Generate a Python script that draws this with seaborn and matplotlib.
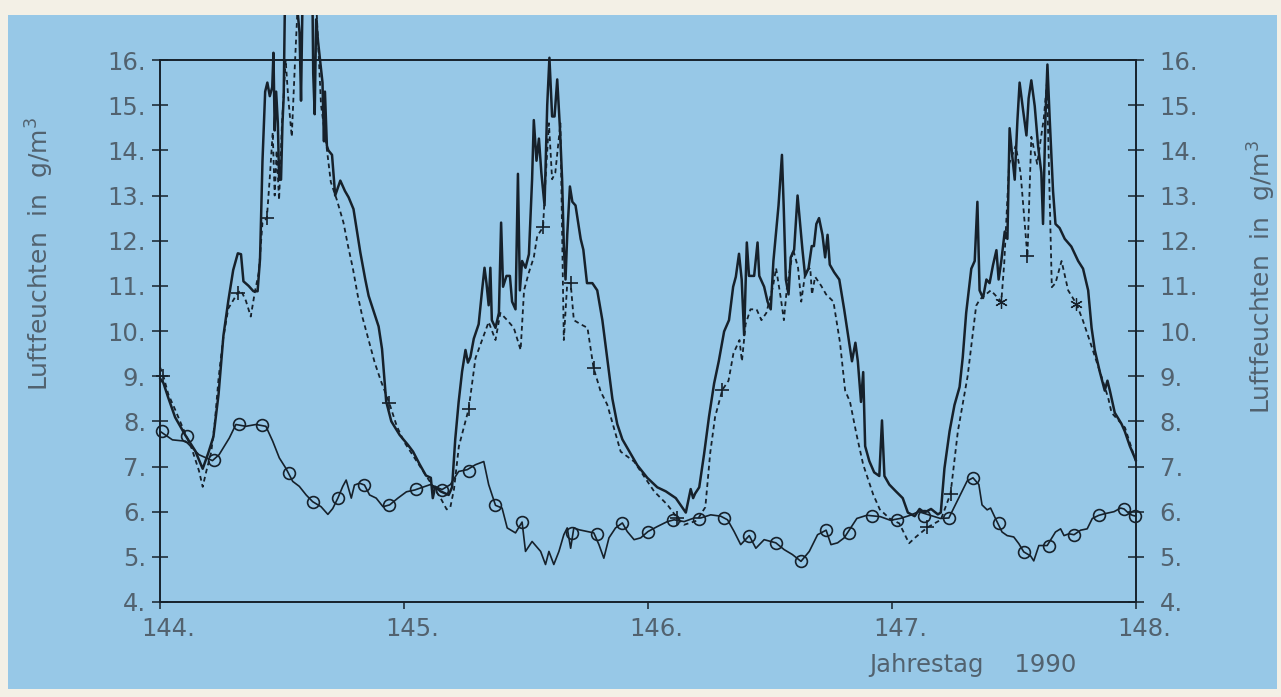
import matplotlib
matplotlib.use("Agg")
import matplotlib.pyplot as plt
import matplotlib.transforms as mtransforms
from matplotlib.patches import Rectangle
import seaborn as sns

# --- Daten (Jahrestag, g/m3) ---
# durchgezogene Kurve
tag_voll = [
    144.000, 144.014, 144.034, 144.062, 144.103, 144.144, 144.175, 144.198, 144.219, 144.240,
    144.260, 144.280, 144.300, 144.319, 144.332, 144.342, 144.363, 144.383, 144.400, 144.410,
    144.420, 144.431, 144.440, 144.450, 144.460, 144.465, 144.470, 144.476, 144.483, 144.488,
    144.496, 144.502, 144.507, 144.512, 144.560, 144.572, 144.578, 144.584, 144.625, 144.628,
    144.634, 144.640, 144.648, 144.656, 144.666, 144.672, 144.676, 144.684, 144.690, 144.705,
    144.718, 144.739, 144.758, 144.773, 144.793, 144.821, 144.841, 144.855, 144.875, 144.896,
    144.910, 144.927, 144.948, 144.982, 145.016, 145.037, 145.064, 145.090, 145.110, 145.118,
    145.128, 145.150, 145.183, 145.197, 145.210, 145.224, 145.238, 145.252, 145.262, 145.272,
    145.286, 145.306, 145.320, 145.330, 145.338, 145.347, 145.354, 145.360, 145.375, 145.389,
    145.398, 145.406, 145.420, 145.434, 145.443, 145.457, 145.467, 145.475, 145.484, 145.498,
    145.512, 145.525, 145.532, 145.543, 145.553, 145.563, 145.576, 145.587, 145.596, 145.607,
    145.617, 145.628, 145.639, 145.648, 145.655, 145.662, 145.669, 145.680, 145.690, 145.703,
    145.724, 145.735, 145.750, 145.772, 145.792, 145.813, 145.833, 145.854, 145.874, 145.895,
    145.929, 145.956, 145.997, 146.038, 146.073, 146.114, 146.155, 146.175, 146.185, 146.193,
    146.210, 146.230, 146.250, 146.271, 146.290, 146.312, 146.332, 146.349, 146.360, 146.373,
    146.384, 146.394, 146.405, 146.414, 146.435, 146.449, 146.456, 146.476, 146.490, 146.503,
    146.514, 146.524, 146.535, 146.549, 146.556, 146.565, 146.576, 146.585, 146.599, 146.613,
    146.622, 146.633, 146.644, 146.658, 146.671, 146.680, 146.690, 146.701, 146.715, 146.726,
    146.736, 146.745, 146.763, 146.784, 146.804, 146.822, 146.836, 146.850, 146.860, 146.873,
    146.882, 146.890, 146.907, 146.927, 146.948, 146.959, 146.969, 146.989, 147.016, 147.044,
    147.065, 147.093, 147.113, 147.133, 147.160, 147.188, 147.200, 147.215, 147.236, 147.256,
    147.277, 147.290, 147.304, 147.325, 147.339, 147.350, 147.359, 147.373, 147.387, 147.400,
    147.414, 147.428, 147.437, 147.448, 147.462, 147.473, 147.482, 147.492, 147.503, 147.514,
    147.523, 147.537, 147.551, 147.560, 147.571, 147.585, 147.599, 147.612, 147.619, 147.629,
    147.637, 147.646, 147.660, 147.670, 147.687, 147.708, 147.735, 147.763, 147.783, 147.804,
    147.818, 147.831, 147.852, 147.872, 147.883, 147.893, 147.913, 147.940, 147.954, 147.975,
    148.000,
]
feuchte_voll = [
    8.95, 8.85, 8.52, 8.09, 7.70, 7.35, 6.95, 7.30, 7.66, 8.60,
    9.90, 10.67, 11.35, 11.72, 11.70, 11.10, 11.00, 10.88, 10.88, 11.60,
    13.76, 15.30, 15.50, 15.20, 15.40, 16.16, 14.44, 15.30, 14.60, 13.40,
    13.35, 14.60, 15.20, 17.30, 17.30, 16.60, 15.10, 17.30, 17.30, 15.70,
    14.80, 16.90, 16.40, 16.00, 15.50, 14.20, 15.30, 14.10, 14.00, 13.90,
    13.00, 13.33, 13.10, 12.96, 12.70, 11.74, 11.15, 10.78, 10.45, 10.10,
    9.60, 8.44, 8.00, 7.70, 7.48, 7.33, 7.05, 6.80, 6.75, 6.30,
    6.55, 6.45, 6.37, 6.54, 7.60, 8.43, 9.10, 9.58, 9.30, 9.42,
    9.83, 10.15, 10.90, 11.40, 11.06, 10.57, 11.40, 10.24, 10.07, 10.40,
    12.40, 10.98, 11.22, 11.22, 10.65, 10.48, 13.48, 10.90, 11.55, 11.40,
    11.70, 13.36, 14.67, 13.77, 14.26, 13.50, 12.78, 15.00, 16.05, 14.75,
    14.75, 15.57, 14.50, 13.36, 11.88, 11.14, 12.13, 13.20, 12.86, 12.78,
    12.04, 11.80, 11.06, 11.06, 10.90, 10.24, 9.40, 8.50, 7.94, 7.60,
    7.28, 7.03, 6.75, 6.54, 6.45, 6.30, 5.98, 6.50, 6.30, 6.40,
    6.54, 7.28, 8.10, 8.84, 9.33, 9.99, 10.24, 10.98, 11.20, 11.71,
    11.14, 9.91, 11.96, 11.22, 11.22, 11.96, 11.22, 10.98, 10.65, 10.48,
    11.55, 12.13, 12.78, 13.90, 12.78, 11.14, 10.81, 11.63, 11.80, 13.00,
    12.45, 11.80, 11.22, 11.39, 11.88, 11.88, 12.37, 12.50, 12.13, 11.63,
    12.13, 11.47, 11.30, 11.14, 10.48, 9.83, 9.33, 9.74, 9.33, 8.43,
    9.09, 7.45, 7.12, 6.87, 6.79, 8.02, 6.79, 6.60, 6.45, 6.30,
    5.98, 5.90, 6.06, 5.98, 6.06, 5.94, 5.98, 6.96, 7.78, 8.36,
    8.76, 9.42, 10.40, 11.38, 11.55, 12.86, 10.90, 10.73, 11.14, 11.06,
    11.46, 11.79, 11.14, 11.55, 12.20, 12.04, 14.49, 13.92, 13.35, 14.66,
    15.50, 14.90, 14.33, 15.15, 15.55, 14.98, 14.08, 13.51, 12.37, 14.74,
    15.90, 14.74, 13.10, 12.37, 12.28, 12.04, 11.87, 11.55, 11.38, 10.90,
    10.07, 9.58, 9.09, 8.68, 8.90, 8.68, 8.19, 7.95, 7.78, 7.45,
    7.13,
]

# gestrichelte Kurve
tag_strich = [
    144.000, 144.014, 144.034, 144.062, 144.090, 144.130, 144.160, 144.175, 144.190, 144.210,
    144.225, 144.240, 144.258, 144.280, 144.318, 144.332, 144.352, 144.372, 144.388, 144.405,
    144.420, 144.438, 144.450, 144.462, 144.470, 144.478, 144.488, 144.500, 144.515, 144.525,
    144.540, 144.552, 144.565, 144.640, 144.660, 144.680, 144.700, 144.725, 144.752, 144.770,
    144.790, 144.810, 144.830, 144.855, 144.880, 144.905, 144.940, 144.970, 145.000, 145.030,
    145.060, 145.090, 145.120, 145.150, 145.175, 145.190, 145.205, 145.225, 145.265, 145.293,
    145.320, 145.347, 145.375, 145.395, 145.423, 145.450, 145.478, 145.492, 145.512, 145.532,
    145.546, 145.570, 145.580, 145.594, 145.607, 145.620, 145.641, 145.655, 145.669, 145.683,
    145.696, 145.724, 145.752, 145.777, 145.806, 145.833, 145.888, 145.943, 146.025, 146.080,
    146.120, 146.148, 146.200, 146.235, 146.255, 146.275, 146.305, 146.330, 146.350, 146.375,
    146.385, 146.400, 146.420, 146.445, 146.465, 146.485, 146.512, 146.525, 146.545, 146.557,
    146.570, 146.595, 146.615, 146.628, 146.645, 146.665, 146.672, 146.685, 146.710, 146.730,
    146.760, 146.787, 146.808, 146.828, 146.855, 146.882, 146.923, 146.950, 146.990, 147.030,
    147.070, 147.100, 147.145, 147.200, 147.240, 147.270, 147.310, 147.345, 147.360, 147.405,
    147.448, 147.460, 147.480, 147.507, 147.527, 147.555, 147.571, 147.595, 147.622, 147.635,
    147.655, 147.670, 147.695, 147.722, 147.756, 147.782, 147.818, 147.858, 147.886, 147.900,
    147.955, 148.000,
]
feuchte_strich = [
    9.20, 9.00, 8.60, 8.26, 7.90, 7.40, 6.90, 6.55, 6.90, 7.32,
    8.00, 8.95, 9.80, 10.50, 10.84, 10.90, 10.67, 10.32, 10.84, 11.30,
    12.40, 12.50, 13.40, 14.40, 13.00, 14.00, 12.90, 14.60, 16.00, 15.20,
    14.30, 15.80, 17.30, 17.30, 15.00, 14.20, 13.30, 12.90, 12.40, 11.90,
    11.40, 10.80, 10.30, 9.80, 9.30, 8.90, 8.40, 7.90, 7.55, 7.30,
    7.05, 6.80, 6.55, 6.30, 6.05, 6.10, 6.50, 7.45, 8.27, 9.40,
    9.80, 10.20, 9.80, 10.40, 10.24, 10.07, 9.58, 10.90, 11.30, 11.63,
    12.10, 12.30, 13.36, 14.60, 13.36, 13.50, 14.60, 9.80, 11.06, 11.06,
    10.24, 10.15, 10.07, 9.18, 8.66, 8.37, 7.33, 7.11, 6.45, 6.15,
    5.86, 5.71, 5.80, 6.10, 7.30, 8.10, 8.70, 8.90, 9.50, 9.80,
    9.33, 10.15, 10.48, 10.48, 10.24, 10.40, 10.98, 11.39, 10.70, 10.24,
    11.00, 11.80, 11.40, 10.65, 11.30, 11.40, 10.81, 11.20, 11.00, 10.81,
    10.65, 9.74, 8.68, 8.43, 7.70, 7.04, 6.38, 6.05, 5.85, 5.74,
    5.30, 5.45, 5.65, 5.82, 6.40, 7.78, 9.00, 10.56, 10.70, 10.90,
    10.65, 11.50, 13.70, 14.10, 13.50, 11.65, 14.30, 13.70, 14.70, 15.50,
    10.97, 11.06, 11.55, 10.90, 10.60, 10.24, 9.66, 9.00, 8.52, 8.19,
    7.86, 7.10,
]
tag_plus = [144.014, 144.318, 144.438, 144.940, 145.265, 145.570, 145.683, 145.777,
            146.120, 146.305, 147.145, 147.240, 147.555]
feuchte_plus = [9.00, 10.84, 12.50, 8.40, 8.27, 12.30, 11.06, 9.18,
                5.86, 8.70, 5.65, 6.40, 11.65]
tag_stern = [147.448, 147.756]
feuchte_stern = [10.65, 10.60]

# duenne Kurve mit Kreisen
tag_kreislinie = [
    144.000, 144.051, 144.105, 144.160, 144.215, 144.242, 144.284, 144.311, 144.352, 144.393,
    144.434, 144.462, 144.489, 144.516, 144.544, 144.571, 144.599, 144.626, 144.660, 144.688,
    144.708, 144.729, 144.749, 144.763, 144.784, 144.797, 144.818, 144.838, 144.859, 144.886,
    144.914, 144.941, 144.975, 145.010, 145.044, 145.108, 145.156, 145.190, 145.224, 145.259,
    145.293, 145.327, 145.347, 145.375, 145.402, 145.423, 145.457, 145.484, 145.498, 145.525,
    145.560, 145.580, 145.594, 145.614, 145.635, 145.655, 145.669, 145.683, 145.696, 145.717,
    145.751, 145.778, 145.799, 145.819, 145.840, 145.867, 145.895, 145.915, 145.943, 145.970,
    146.000, 146.038, 146.079, 146.107, 146.148, 146.189, 146.216, 146.257, 146.298, 146.326,
    146.353, 146.380, 146.415, 146.442, 146.476, 146.503, 146.524, 146.558, 146.592, 146.627,
    146.661, 146.695, 146.730, 146.750, 146.777, 146.804, 146.856, 146.897, 146.952, 146.993,
    147.034, 147.075, 147.109, 147.157, 147.198, 147.233, 147.253, 147.280, 147.308, 147.332,
    147.356, 147.369, 147.390, 147.404, 147.424, 147.451, 147.472, 147.499, 147.520, 147.540,
    147.568, 147.581, 147.602, 147.636, 147.670, 147.691, 147.705, 147.725, 147.746, 147.773,
    147.800, 147.821, 147.848, 147.876, 147.910, 147.937, 147.951, 147.971, 147.985, 148.000,
]
feuchte_kreislinie = [
    7.78, 7.59, 7.56, 7.26, 7.13, 7.26, 7.63, 7.93, 7.89, 7.93,
    7.89, 7.56, 7.19, 6.96, 6.67, 6.56, 6.37, 6.22, 6.11, 5.94,
    6.07, 6.30, 6.56, 6.70, 6.30, 6.59, 6.63, 6.59, 6.37, 6.30,
    6.11, 6.15, 6.30, 6.44, 6.48, 6.60, 6.49, 6.60, 6.89, 6.93,
    7.04, 7.11, 6.60, 6.14, 6.08, 5.64, 5.53, 5.77, 5.12, 5.34,
    5.12, 4.83, 5.12, 4.83, 5.12, 5.49, 5.64, 5.19, 5.64, 5.60,
    5.56, 5.53, 5.27, 4.97, 5.42, 5.64, 5.75, 5.56, 5.38, 5.42,
    5.56, 5.67, 5.78, 5.82, 5.78, 5.86, 5.86, 5.93, 5.90, 5.82,
    5.56, 5.27, 5.47, 5.19, 5.38, 5.34, 5.31, 5.16, 5.05, 4.90,
    5.12, 5.49, 5.59, 5.27, 5.31, 5.42, 5.85, 5.92, 5.89, 5.81,
    5.85, 5.92, 6.00, 5.92, 5.85, 5.86, 6.08, 6.38, 6.68, 6.75,
    6.60, 6.15, 6.04, 6.08, 5.85, 5.55, 5.47, 5.44, 5.29, 5.11,
    5.02, 4.91, 5.25, 5.25, 5.55, 5.62, 5.47, 5.51, 5.49, 5.59,
    5.62, 5.85, 5.92, 5.96, 6.00, 6.08, 6.06, 5.96, 5.92, 5.90,
]
tag_kreise = [
    144.010, 144.112, 144.222, 144.322, 144.420, 144.530, 144.626, 144.729, 144.838, 144.940,
    145.048, 145.156, 145.265, 145.375, 145.484, 145.690, 145.790, 145.895, 146.000, 146.104,
    146.210, 146.310, 146.415, 146.524, 146.627, 146.730, 146.825, 146.918, 147.020, 147.130,
    147.233, 147.332, 147.438, 147.540, 147.643, 147.746, 147.848, 147.950, 147.995,
]
feuchte_kreise = [
    7.79, 7.67, 7.15, 7.94, 7.91, 6.85, 6.22, 6.30, 6.60, 6.15,
    6.50, 6.49, 6.89, 6.14, 5.77, 5.53, 5.50, 5.75, 5.56, 5.82,
    5.84, 5.86, 5.47, 5.30, 4.90, 5.59, 5.53, 5.90, 5.81, 5.91,
    5.86, 6.75, 5.74, 5.11, 5.25, 5.49, 5.92, 6.06, 5.91,
]

x_ticks = [144, 145, 146, 147, 148]
y_ticks = list(range(4, 17))

# --- Stil ---
BLAU = "#97c8e7"
CREME = "#f3f0e6"
TINTE = "#16212b"
SCHRIFT = "#52626f"

sns.set_theme(style="ticks", rc={"axes.facecolor": BLAU, "figure.facecolor": BLAU})
plt.rcParams["font.family"] = ["DejaVu Sans"]

fig = plt.figure(figsize=(12.81, 6.97), dpi=100)
ax = fig.add_axes([0.1249, 0.1363, 0.7619, 0.7776])

sns.lineplot(x=tag_voll, y=feuchte_voll, ax=ax, color=TINTE, linewidth=1.8,
             estimator=None, sort=False)
sns.lineplot(x=tag_strich, y=feuchte_strich, ax=ax, color=TINTE, linewidth=1.3,
             linestyle=(0, (2.6, 2.0)), estimator=None, sort=False)
sns.lineplot(x=tag_kreislinie, y=feuchte_kreislinie, ax=ax, color=TINTE, linewidth=1.2,
             estimator=None, sort=False)
ax.plot(tag_kreise, feuchte_kreise, ls="none", marker="o", ms=8.5, mfc="none",
        mec=TINTE, mew=1.2)
ax.plot(tag_plus, feuchte_plus, ls="none", marker="+", ms=10, mew=1.2, color=TINTE)
ax.plot(tag_stern, feuchte_stern, ls="none", marker=(6, 2, 0), ms=9, mew=0.9, color=TINTE)
for ln in ax.lines:
    ln.set_clip_on(False)

ax.set_xlim(144, 148)
ax.set_ylim(4, 16)
ax.set_xticks(x_ticks)
ax.set_xticklabels([f"{v}." for v in x_ticks])
ax.set_yticks(y_ticks)
ax.set_yticklabels([f"{v}." for v in y_ticks])
ax.set_xlabel("")
ax.set_ylabel("")

for sp in ax.spines.values():
    sp.set_visible(True)
    sp.set_color(TINTE)
    sp.set_linewidth(1.2)

ax.tick_params(axis="y", direction="inout", length=12, width=1.1, color=TINTE,
               labelcolor=SCHRIFT, labelsize=17.5, pad=4)
ax.tick_params(axis="x", direction="out", length=5, width=1.1, color=TINTE,
               labelcolor=SCHRIFT, labelsize=17.5, pad=6)
shift = mtransforms.ScaledTranslation(8 / 100, 0, fig.dpi_scale_trans)
for lab in ax.get_xticklabels():
    lab.set_transform(lab.get_transform() + shift)

ax2 = ax.twinx()
ax2.set_ylim(4, 16)
ax2.set_yticks(y_ticks)
ax2.set_yticklabels([f"{v}." for v in y_ticks])
ax2.tick_params(axis="y", direction="inout", length=12, width=1.1, color=TINTE,
                labelcolor=SCHRIFT, labelsize=17.5, pad=11)
for sp in ax2.spines.values():
    sp.set_visible(True)
    sp.set_color(TINTE)
    sp.set_linewidth(1.2)

label = "Luftfeuchten  in  g/m$^3$"
fig.text(40 / 1281, 1 - 254 / 697, label, rotation=90, ha="center", va="center",
         fontsize=18, color=SCHRIFT)
fig.text(1262 / 1281, 1 - 277 / 697, label, rotation=90, ha="center", va="center",
         fontsize=18, color=SCHRIFT)
fig.text(973 / 1281, 1 - 665 / 697, "Jahrestag    1990", ha="center", va="center",
         fontsize=17.5, color=SCHRIFT)

# Papierrand des Scans
for x0, y0, w, h in [(0, 1 - 15 / 697, 1, 15 / 697), (0, 0, 1, 8 / 697),
                     (0, 0, 8 / 1281, 1), (1 - 4 / 1281, 0, 4 / 1281, 1)]:
    fig.patches.append(Rectangle((x0, y0), w, h, transform=fig.transFigure,
                                 facecolor=CREME, edgecolor="none", zorder=10))

fig.savefig("out.png", dpi=100, facecolor=BLAU)
